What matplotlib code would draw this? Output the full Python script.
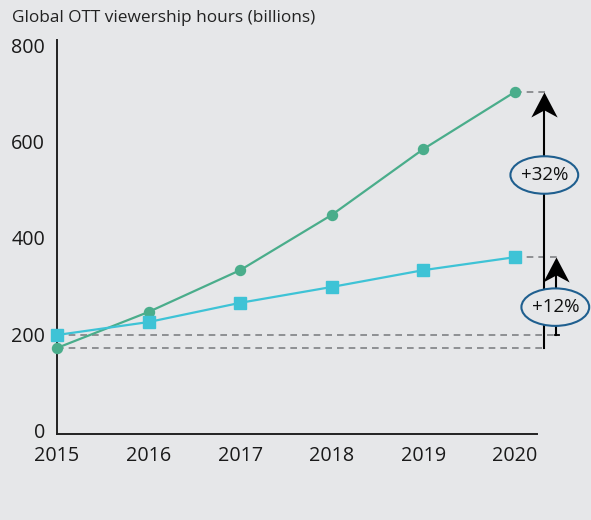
import matplotlib.pyplot as plt
from matplotlib.patches import Ellipse
from matplotlib.path import Path

years = [2015, 2016, 2017, 2018, 2019, 2020]
green_vals = [171, 246, 333, 448, 585, 704]
blue_vals = [198, 225, 265, 298, 333, 360]
y_ticks = [0, 200, 400, 600, 800]
title = "Global OTT viewership hours (billions)"
green_growth = "+32%"
blue_growth = "+12%"

BG = "#e6e7e9"
GREEN = "#4aad8b"
BLUE = "#3ec3d6"
DASH = "#7f8185"
RING = "#1f5f8f"

plt.rcParams['font.family'] = ['Open Sans', 'DejaVu Sans']

# stealth-style arrow head, tip at the origin
head = Path([(0, 0), (0.5, -0.95), (0, -0.68), (-0.5, -0.95), (0, 0)],
            [Path.MOVETO, Path.LINETO, Path.LINETO, Path.LINETO, Path.CLOSEPOLY])

fig = plt.figure(figsize=(5.91, 5.2), dpi=100, facecolor=BG)
ax = fig.add_axes([0.0964, 0.1654, 0.8122, 0.7577])
ax.set_facecolor(BG)

ax.set_xlim(2015, 2020.24)
ax.set_ylim(-8, 812)

# dashed guide lines
dash = dict(ls=(0, (4, 3)), color=DASH, lw=1.2, clip_on=False, zorder=1)
ax.plot([years[0], 2020.46], [blue_vals[0]] * 2, **dash)
ax.plot([years[0], 2020.32], [green_vals[0]] * 2, **dash)
ax.plot([years[-1], 2020.36], [green_vals[-1]] * 2, **dash)
ax.plot([years[-1], 2020.46], [blue_vals[-1]] * 2, **dash)

ax.plot(years, green_vals, color=GREEN, lw=1.6, marker='o', ms=7.2, clip_on=False, zorder=3)
ax.plot(years, blue_vals, color=BLUE, lw=1.6, marker='s', ms=8.5, clip_on=False, zorder=3)

# growth arrows
for xa, lo, hi in [(2020.32, green_vals[0], green_vals[-1]), (2020.45, blue_vals[0], blue_vals[-1])]:
    ax.plot([xa, xa], [lo, hi - 10], color="black", lw=1.5, clip_on=False, zorder=2)
    ax.plot([xa], [hi], marker=head, ms=36, color="black", mew=0, clip_on=False, zorder=2)
ax.plot([2020.44, 2020.475], [blue_vals[0]] * 2, color="black", lw=1.3, clip_on=False, zorder=2)

for xc, yc, txt in [(2020.32, 531, green_growth), (2020.44, 256, blue_growth)]:
    e = Ellipse((xc, yc), 0.74, 78, facecolor=BG, edgecolor=RING, lw=1.5, clip_on=False, zorder=5)
    ax.add_patch(e)
    ax.text(xc, yc, txt, ha='center', va='center', fontsize=13.5, color="#111111", zorder=6)

for s in ['top', 'right']:
    ax.spines[s].set_visible(False)
for s in ['left', 'bottom']:
    ax.spines[s].set_color("#222222")
    ax.spines[s].set_linewidth(1.4)

ax.set_xticks(years)
ax.set_xticklabels([str(y) for y in years])
ax.set_yticks(y_ticks)
ax.tick_params(length=0, labelsize=14.2, labelcolor="#1a1a1a")
ax.tick_params(axis='x', pad=8.5)
ax.tick_params(axis='y', pad=8.5)

fig.text(12 / 591, 1 - 18 / 520, title, fontsize=12.4, color="#222222", va='center', ha='left')

fig.savefig("out.png", dpi=100, facecolor=BG)
